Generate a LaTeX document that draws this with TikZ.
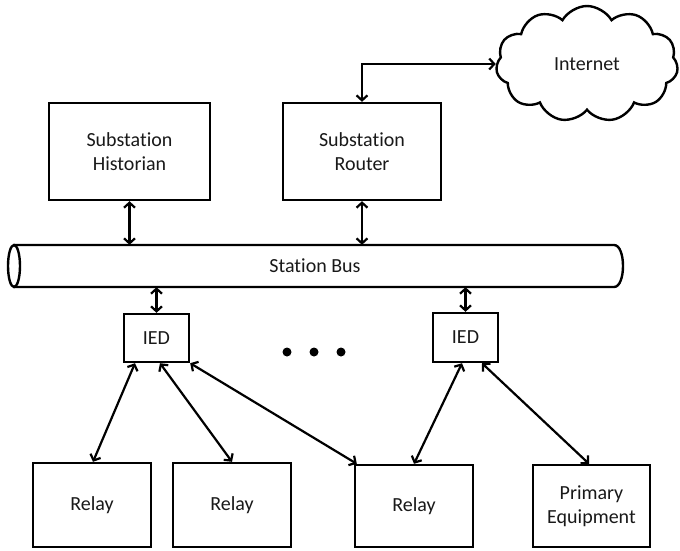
\documentclass[tikz,border=0pt]{standalone}
\usepackage{fontspec}
\setmainfont{Carlito}[Ligatures=NoCommon]
\usetikzlibrary{arrows.meta,shapes.symbols,calc}
\tikzset{
  box/.style={draw=black, line width=2.4pt, fill=white, align=center,
    inner sep=0pt, font=\fontsize{20}{24}\selectfont, text=black!90},
  link/.style={line width=2.2pt, {Straight Barb[length=5pt,width=11pt]}-{Straight Barb[length=5pt,width=11pt]}},
  dot/.style={fill=black, circle, inner sep=0pt, minimum size=9pt}
}
\begin{document}
\begin{tikzpicture}[x=1pt,y=-1pt]
\useasboundingbox (0,0) rectangle (680,550);

% upper level
\node[box, minimum width=161pt, minimum height=97pt] (hist) at (129.5,151.5) {Substation\\Historian};
\node[box, minimum width=158pt, minimum height=97pt] (router) at (362,151.5) {Substation\\Router};
\node[cloud, cloud puffs=11, cloud puff arc=120, aspect=1.55, draw, line width=2.4pt,
  minimum width=182pt, minimum height=116pt, font=\fontsize{20}{24}\selectfont, text=black!90]
  (net) at (587,64) {Internet};

% station bus drawn as a horizontal cylinder
\draw[line width=2.4pt] (14,245) -- (614,245)
  .. controls (626,245) and (626,287) .. (614,287) -- (14,287);
\draw[line width=2.4pt] (14,266) ellipse [x radius=6, y radius=21];
\node[font=\fontsize{20}{24}\selectfont, text=black!90, minimum width=615pt,
  minimum height=42pt, inner sep=0pt] (bus) at (315,266) {Station Bus};

% bay level
\node[box, minimum width=65pt, minimum height=48pt] (iedL) at (156.5,338) {IED};
\node[box, minimum width=65pt, minimum height=49pt] (iedR) at (465.5,337.5) {IED};
\node[dot] (d1) at (287,352) {};
\node[dot] (d2) at (314,352) {};
\node[dot] (d3) at (341,352) {};

% process level
\node[box, minimum width=118pt, minimum height=84pt] (relA) at (92,505) {Relay};
\node[box, minimum width=118pt, minimum height=84pt] (relB) at (232,505) {Relay};
\node[box, minimum width=118pt, minimum height=82pt] (relC) at (414,506) {Relay};
\node[box, minimum width=117pt, minimum height=82pt] (prim) at (591.5,506) {Primary\\Equipment};

% connectors
\draw[link] (router.north) |- (net.west);
\draw[link] (hist.south) -- (hist.south |- bus.north);
\draw[link] (router.south) -- (router.south |- bus.north);
\draw[link] (iedL.north |- bus.south) -- (iedL.north);
\draw[link] (iedR.north |- bus.south) -- (iedR.north);
\draw[link] ([xshift=-21.5pt]iedL.south) -- ([xshift=1pt]relA.north);
\draw[link] ([xshift=3.5pt]iedL.south) -- (relB.north);
\draw[link] (iedL.south east) -- ([xshift=3pt]relC.north west);
\draw[link] ([xshift=-3.5pt]iedR.south) -- (relC.north);
\draw[link] ([xshift=16.5pt]iedR.south) -- ([xshift=-2.5pt]prim.north);
\end{tikzpicture}
\end{document}
